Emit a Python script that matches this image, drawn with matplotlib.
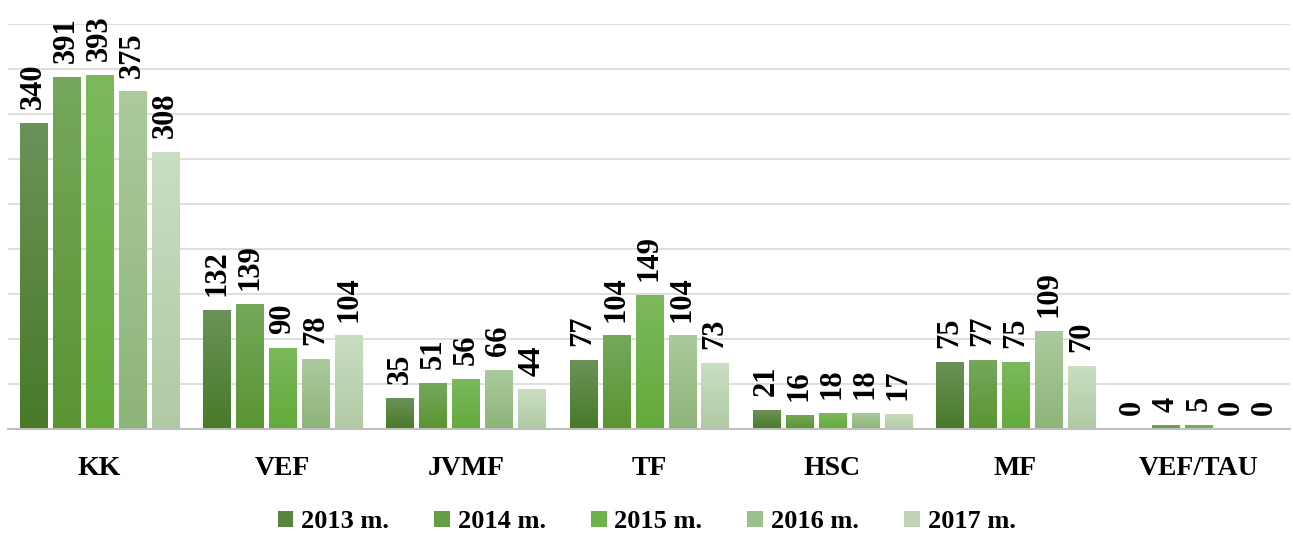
import matplotlib
matplotlib.use("Agg")
import matplotlib.pyplot as plt
import numpy as np
from matplotlib.colors import LinearSegmentedColormap
from matplotlib.patches import Patch

categories = ["KK", "VEF", "JVMF", "TF", "HSC", "MF", "VEF/TAU"]
years = ["2013 m.", "2014 m.", "2015 m.", "2016 m.", "2017 m."]
v2013 = [340, 132, 35, 77, 21, 75, 0]
v2014 = [391, 139, 51, 104, 16, 77, 4]
v2015 = [393, 90, 56, 149, 18, 75, 5]
v2016 = [375, 78, 66, 104, 18, 109, 0]
v2017 = [308, 104, 44, 73, 17, 70, 0]
series = [v2013, v2014, v2015, v2016, v2017]

tops = ["#6b9258", "#75a85b", "#7cb95d", "#abcb9d", "#cadec2"]
bottoms = ["#487a28", "#5a9432", "#64aa3a", "#8db479", "#b0caa4"]
solid = ["#5a8540", "#669e45", "#6fb14a", "#9cc08b", "#bfd5b4"]

plt.rcParams['font.family'] = ['Liberation Serif', 'DejaVu Serif']

fig = plt.figure(figsize=(12.93, 5.33), dpi=100)
ax = fig.add_axes([0.006, 0.195, 0.992, 0.76])

x = np.arange(len(categories))
stride = 0.18
width = 0.148
grad = np.linspace(1, 0, 256).reshape(-1, 1)

for i, vals in enumerate(series):
    pos = x + (i - 2) * stride
    bars = ax.bar(pos, vals, width=width, color=solid[i], zorder=3, linewidth=0)
    cmap = LinearSegmentedColormap.from_list("g%d" % i, [bottoms[i], tops[i]])
    for b, v, p in zip(bars, vals, pos):
        if v > 0:
            im = ax.imshow(grad, extent=[p - width / 2, p + width / 2, 0, v],
                           aspect='auto', cmap=cmap, vmin=0, vmax=1, zorder=3.5,
                           origin='upper')
            im.set_clip_path(b)
        ax.annotate(str(v), (p, v), xytext=(0, 10), textcoords='offset points',
                    rotation=90, ha='center', va='bottom', fontsize=22,
                    fontweight='bold', zorder=5, annotation_clip=False)

ax.set_xlim(-0.5, len(categories) - 0.5)
ax.set_ylim(0, 450)
ax.set_yticks(np.arange(0, 451, 50))
ax.yaxis.grid(True, color="#d9d9d9", linewidth=1.2, zorder=0)
ax.set_axisbelow(True)
ax.tick_params(axis='y', left=False, labelleft=False)
ax.tick_params(axis='x', bottom=False, pad=16)
ax.set_xticks(x)
ax.set_xticklabels(categories, fontsize=20, fontweight='bold')
for s in ['top', 'right', 'left']:
    ax.spines[s].set_visible(False)
ax.spines['bottom'].set_color("#bfbfbf")
ax.spines['bottom'].set_linewidth(1.5)
ax.spines['bottom'].set_zorder(6)

handles = [Patch(facecolor=solid[i], edgecolor='none') for i in range(5)]
fig.legend(handles, years, loc='lower center', bbox_to_anchor=(0.5, -0.045), ncol=5,
           frameon=False, prop={'size': 19, 'weight': 'bold'},
           handlelength=0.6, handleheight=0.6, handletextpad=0.3, columnspacing=1.7)

fig.savefig("out.png", dpi=100)
